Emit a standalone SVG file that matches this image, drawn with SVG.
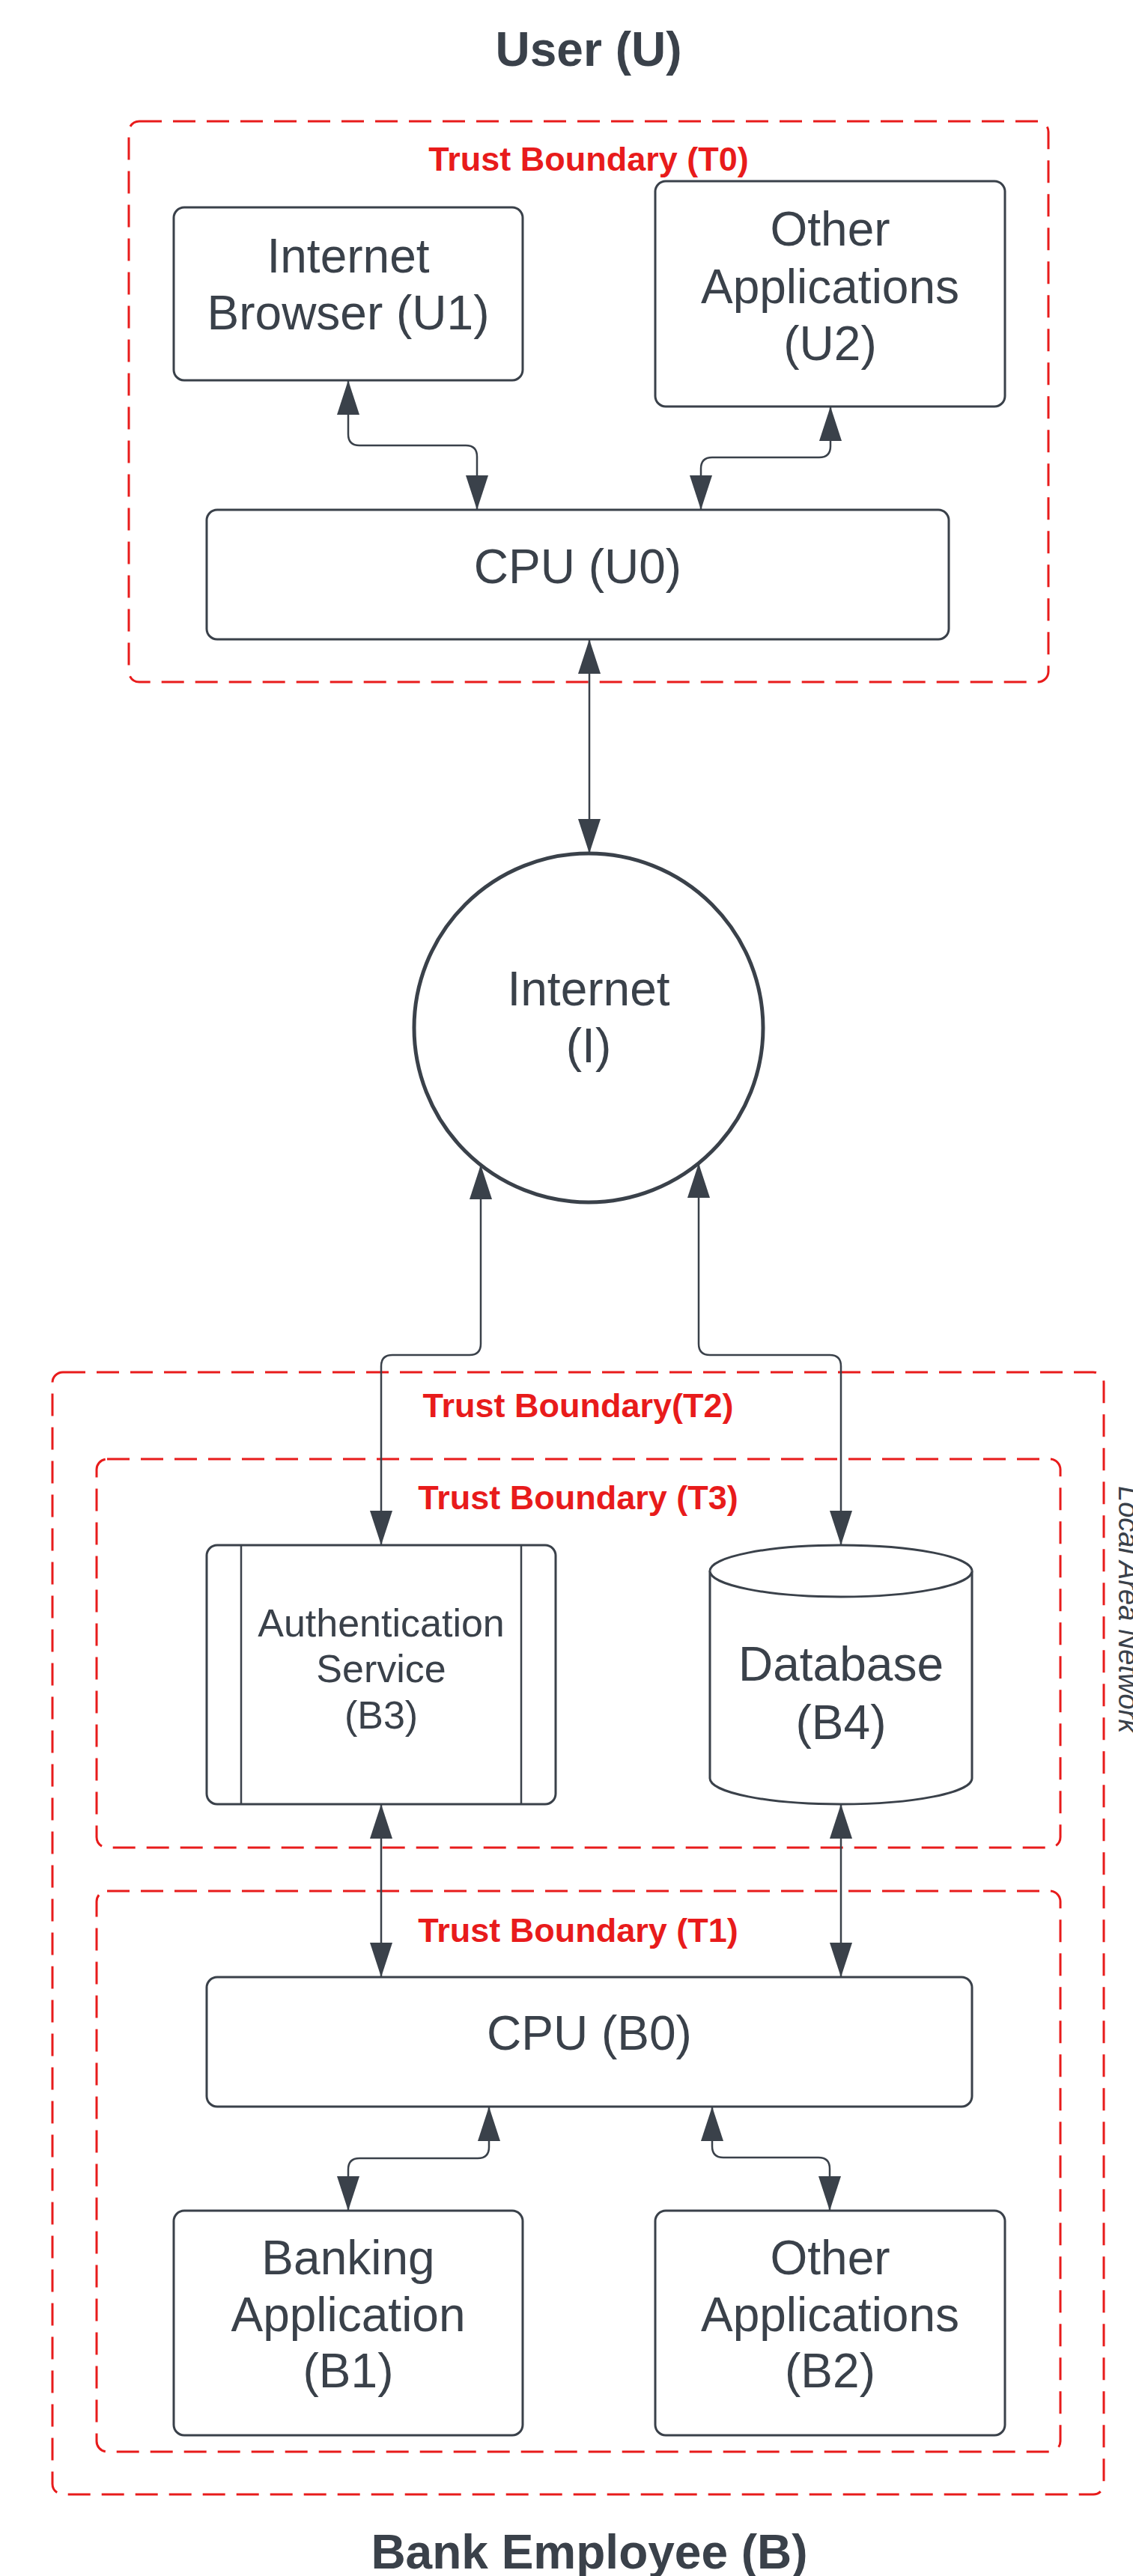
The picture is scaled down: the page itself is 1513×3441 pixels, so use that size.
<svg xmlns="http://www.w3.org/2000/svg" width="1513" height="3441" viewBox="0 0 1513 3441">
  <defs>
    <style>
      .bg { fill: #ffffff; }
      .boundary { fill: none; stroke: #e81b1b; stroke-width: 3; stroke-dasharray: 30 15; }
      .box { fill: #ffffff; stroke: #3a414a; stroke-width: 3; }
      .line { fill: none; stroke: #3a414a; stroke-width: 2.5; }
      .conn { fill: none; stroke: #3a414a; stroke-width: 2.5; marker-start: url(#arrow); marker-end: url(#arrow); }
      .label { font-family: "Liberation Sans", Arial, sans-serif; fill: #3a414a; text-anchor: middle; font-size: 64px; }
      .small { font-size: 52px; }
      .title { font-family: "Liberation Sans", Arial, sans-serif; fill: #3a414a; text-anchor: middle; font-size: 64px; font-weight: bold; }
      .tb { font-family: "Liberation Sans", Arial, sans-serif; fill: #e81b1b; text-anchor: middle; font-size: 45px; font-weight: bold; }
      .lan { font-family: "Liberation Sans", Arial, sans-serif; fill: #3a414a; font-size: 38px; font-style: italic; }
    </style>
    <marker id="arrow" markerUnits="userSpaceOnUse" markerWidth="46" markerHeight="30" refX="46" refY="15" orient="auto-start-reverse" viewBox="0 0 46 30">
      <path d="M0,0 L46,15 L0,30 Z" fill="#3a414a"/>
    </marker>
  </defs>

  <rect class="bg" x="0" y="0" width="1513" height="3441"/>

  <!-- titles -->
  <text class="title" x="786" y="88">User (U)</text>
  <text class="title" x="787" y="3431">Bank Employee (B)</text>

  <!-- trust boundaries -->
  <g id="trust-boundary-t0">
    <rect class="boundary" x="172" y="162" width="1228" height="749" rx="14"/>
    <text class="tb" x="786" y="228">Trust Boundary (T0)</text>
  </g>
  <g id="trust-boundary-t2">
    <rect class="boundary" x="70" y="1833" width="1404" height="1499" rx="14"/>
    <text class="tb" x="772" y="1893">Trust Boundary(T2)</text>
  </g>
  <g id="trust-boundary-t3">
    <rect class="boundary" x="129" y="1949" width="1287" height="519" rx="14"/>
    <text class="tb" x="772" y="2016">Trust Boundary (T3)</text>
  </g>
  <g id="trust-boundary-t1">
    <rect class="boundary" x="129" y="2526" width="1287" height="749" rx="14"/>
    <text class="tb" x="772" y="2594">Trust Boundary (T1)</text>
  </g>
  <g id="lan-label">
    <text class="lan" transform="translate(1494,1985) rotate(90)" x="0" y="0">Local Area Network</text>
  </g>

  <!-- user side nodes -->
  <g id="node-u1">
    <rect class="box" x="232" y="277" width="466" height="231" rx="14"/>
    <text class="label" x="465" y="364">Internet</text>
    <text class="label" x="465" y="440">Browser (U1)</text>
  </g>
  <g id="node-u2">
    <rect class="box" x="875" y="242" width="467" height="301" rx="14"/>
    <text class="label" x="1108.5" y="328">Other</text>
    <text class="label" x="1108.5" y="405">Applications</text>
    <text class="label" x="1108.5" y="481">(U2)</text>
  </g>
  <g id="node-u0">
    <rect class="box" x="276" y="681" width="991" height="173" rx="14"/>
    <text class="label" x="771.5" y="779">CPU (U0)</text>
  </g>

  <!-- internet -->
  <g id="node-internet">
    <circle cx="786" cy="1373" r="233" fill="#ffffff" stroke="#3a414a" stroke-width="5"/>
    <text class="label" x="786" y="1343">Internet</text>
    <text class="label" x="786" y="1419">(I)</text>
  </g>

  <!-- bank side nodes -->
  <g id="node-b3">
    <rect class="box" x="276" y="2064" width="466" height="346" rx="14"/>
    <line class="line" x1="322" y1="2064" x2="322" y2="2410"/>
    <line class="line" x1="696" y1="2064" x2="696" y2="2410"/>
    <text class="label small" x="509" y="2186">Authentication</text>
    <text class="label small" x="509" y="2247">Service</text>
    <text class="label small" x="509" y="2309">(B3)</text>
  </g>
  <g id="node-b4">
    <path class="box" d="M948,2098.5 A175,34.5 0 0 1 1298,2098.5 V2375.5 A175,34.5 0 0 1 948,2375.5 Z"/>
    <path class="box" fill="none" d="M948,2098.5 A175,34.5 0 0 0 1298,2098.5"/>
    <text class="label" x="1123" y="2245">Database</text>
    <text class="label" x="1123" y="2323">(B4)</text>
  </g>
  <g id="node-b0">
    <rect class="box" x="276" y="2641" width="1022" height="173" rx="14"/>
    <text class="label" x="787" y="2738">CPU (B0)</text>
  </g>
  <g id="node-b1">
    <rect class="box" x="232" y="2953" width="466" height="300" rx="14"/>
    <text class="label" x="465" y="3038">Banking</text>
    <text class="label" x="465" y="3114">Application</text>
    <text class="label" x="465" y="3189">(B1)</text>
  </g>
  <g id="node-b2">
    <rect class="box" x="875" y="2953" width="467" height="300" rx="14"/>
    <text class="label" x="1108.5" y="3038">Other</text>
    <text class="label" x="1108.5" y="3114">Applications</text>
    <text class="label" x="1108.5" y="3189">(B2)</text>
  </g>

  <!-- connectors (all bidirectional) -->
  <g id="connectors">
    <path class="conn" d="M465,508 V580 Q465,595 480,595 H622 Q637,595 637,610 V681"/>
    <path class="conn" d="M1109,543 V596 Q1109,611 1094,611 H951 Q936,611 936,626 V681"/>
    <path class="conn" d="M787,854 V1140"/>
    <path class="conn" d="M642,1556 V1795 Q642,1810 627,1810 H524 Q509,1810 509,1825 V2064"/>
    <path class="conn" d="M933,1554 V1795 Q933,1810 948,1810 H1108 Q1123,1810 1123,1825 V2064"/>
    <path class="conn" d="M509,2410 V2641"/>
    <path class="conn" d="M1123,2410 V2641"/>
    <path class="conn" d="M653,2814 V2868 Q653,2883 638,2883 H480 Q465,2883 465,2898 V2953"/>
    <path class="conn" d="M951,2814 V2867 Q951,2882 966,2882 H1093 Q1108,2882 1108,2897 V2953"/>
  </g>
</svg>
